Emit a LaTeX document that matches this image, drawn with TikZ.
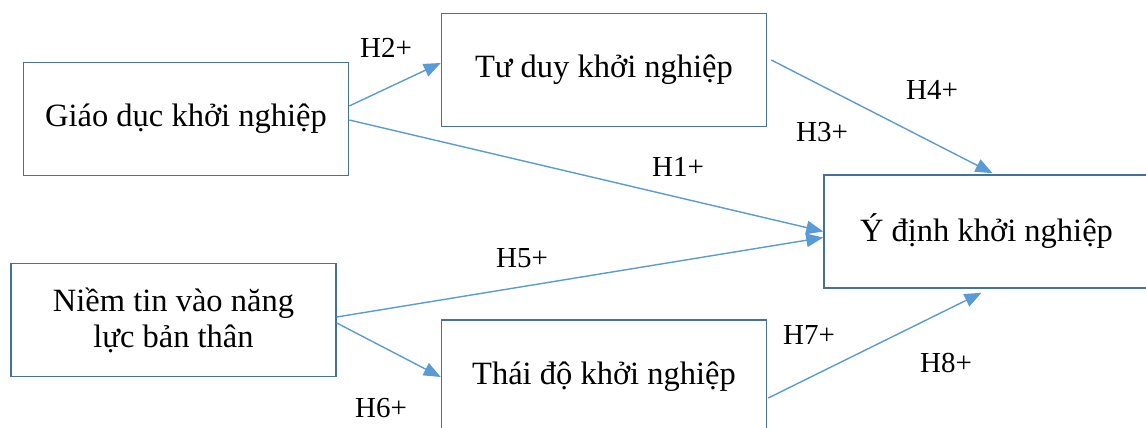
\documentclass[tikz,border=0pt]{standalone}
\usepackage{fontspec}
\setmainfont{Liberation Serif}
\usetikzlibrary{positioning,arrows.meta,calc}

\definecolor{boxblue}{HTML}{41719C}
\definecolor{linkblue}{HTML}{5B9BD5}

\begin{document}
\begin{tikzpicture}[
  x=0.02cm, y=-0.02cm,
  >={Triangle[length=0.34cm,width=0.27cm]},
  factor/.style={rectangle, draw=boxblue, line width=0.9pt, minimum width=6.5cm,
    minimum height=2.26cm, inner sep=2pt, align=center,
    font=\fontsize{18.5}{20.5}\selectfont},
  link/.style={->, draw=linkblue, line width=0.8pt},
  hyp/.style={inner sep=0pt, font=\fontsize{16.5}{18}\selectfont}
]

% -----------------------
% Layout parameters (pixels, y down)
% -----------------------
\def\xmid{604}
\def\xright{986.5}

\clip (0,0) rectangle (1146,428);

% -----------------------
% Factors
% -----------------------
\node[factor] (edu)    at (186,119)     {Giáo dục khởi nghiệp};
\node[factor] (belief) at (173.5,320)   {Niềm tin vào năng\\lực bản thân};
\node[factor] (mind)   at (\xmid,70)    {Tư duy khởi nghiệp};
\node[factor] (attit)  at (\xmid,376.5) {Thái độ khởi nghiệp};
\node[factor] (intent) at (\xright,231.5) {Ý định khởi nghiệp};

% -----------------------
% Paths
% -----------------------
\draw[link] ($(edu.east)+(0,-13)$) -- ($(mind.west)+(0,-7)$);
\draw[link] ($(edu.east)+(0,1)$) -- ($(intent.west)+(0,0)$);
\draw[link] ($(belief.east)+(0,-3)$) -- ($(intent.west)+(0,6)$);
\draw[link] ($(belief.east)+(0,3)$) -- ($(attit.west)+(0,0.5)$);
\draw[link] ($(mind.east)+(4,-10)$) -- ($(intent.north)+(6,-1)$);
\draw[link] ($(attit.east)+(1,21.5)$) -- ($(intent.south)+(-5,4)$);

% Hypotheses
\node[hyp] (h1) at (678,167) {H1+};
\node[hyp] (h2) at (386,48)  {H2+};
\node[hyp] (h3) at (822,132) {H3+};
\node[hyp] (h4) at (932,90)  {H4+};
\node[hyp] (h5) at (522,258) {H5+};
\node[hyp] (h6) at (381,408) {H6+};
\node[hyp] (h7) at (809,335) {H7+};
\node[hyp] (h8) at (946,363) {H8+};

\end{tikzpicture}
\end{document}
